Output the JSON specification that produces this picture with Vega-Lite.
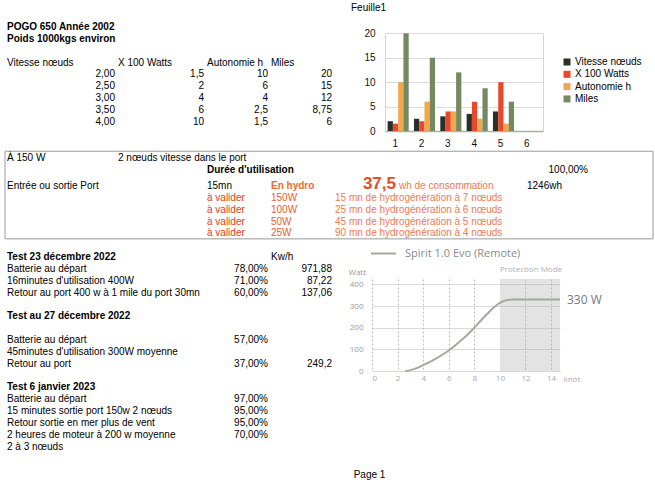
{
  "$schema": "https://vega.github.io/schema/vega-lite/v6.json",
  "width": 655,
  "height": 482,
  "autosize": {"type": "none"},
  "padding": 0,
  "background": "white",
  "config": {"font": "Liberation Sans", "view": {"stroke": null}},
  "title": {"text": "Feuille1", "fontSize": 10, "fontWeight": "normal", "color": "#000000", "frame": "group", "anchor": "middle", "dx": 41, "offset": -18, "baseline": "middle"},
  "datasets": {
    "cells": [
      {"row": 1, "col": 1, "role": "heading", "text": "POGO 650 Année 2002"},
      {"row": 2, "col": 1, "role": "heading", "text": "Poids 1000kgs environ"},
      {"row": 4, "col": 1, "role": "text", "text": "Vitesse nœuds"},
      {"row": 4, "col": 2, "role": "text", "text": "X 100 Watts"},
      {"row": 4, "col": 3, "role": "text", "text": "Autonomie h"},
      {"row": 4, "col": 4, "role": "text", "text": "Miles"},
      {"row": 5, "col": 1, "role": "value", "text": "2,00"},
      {"row": 5, "col": 2, "role": "value", "text": "1,5"},
      {"row": 5, "col": 3, "role": "value", "text": "10"},
      {"row": 5, "col": 4, "role": "value", "text": "20"},
      {"row": 6, "col": 1, "role": "value", "text": "2,50"},
      {"row": 6, "col": 2, "role": "value", "text": "2"},
      {"row": 6, "col": 3, "role": "value", "text": "6"},
      {"row": 6, "col": 4, "role": "value", "text": "15"},
      {"row": 7, "col": 1, "role": "value", "text": "3,00"},
      {"row": 7, "col": 2, "role": "value", "text": "4"},
      {"row": 7, "col": 3, "role": "value", "text": "4"},
      {"row": 7, "col": 4, "role": "value", "text": "12"},
      {"row": 8, "col": 1, "role": "value", "text": "3,50"},
      {"row": 8, "col": 2, "role": "value", "text": "6"},
      {"row": 8, "col": 3, "role": "value", "text": "2,5"},
      {"row": 8, "col": 4, "role": "value", "text": "8,75"},
      {"row": 9, "col": 1, "role": "value", "text": "4,00"},
      {"row": 9, "col": 2, "role": "value", "text": "10"},
      {"row": 9, "col": 3, "role": "value", "text": "1,5"},
      {"row": 9, "col": 4, "role": "value", "text": "6"},
      {"row": 12, "col": 1, "toRow": 18, "toCol": 9, "role": "frame", "text": ""},
      {"row": 12, "col": 1, "role": "text", "text": "À 150 W"},
      {"row": 12, "col": 2, "role": "text", "text": "2 nœuds vitesse dans le port"},
      {"row": 13, "col": 3, "role": "heading", "text": "Durée d'utilisation"},
      {"row": 13, "col": 8, "role": "value", "text": "100,00%"},
      {"row": 14, "col": 1, "role": "text", "text": "Entrée ou sortie Port"},
      {"row": 14, "col": 3, "role": "text", "text": "15mn"},
      {"row": 14, "col": 4, "role": "mode", "text": "En hydro"},
      {"row": 14, "col": 5, "role": "consumption", "text": "37,5"},
      {"row": 14, "col": 6, "role": "note", "text": "wh de consommation"},
      {"row": 14, "col": 8, "role": "text", "text": "1246wh"},
      {"row": 15, "col": 3, "role": "todo", "text": "à valider"},
      {"row": 15, "col": 4, "role": "power", "text": "150W"},
      {"row": 15, "col": 5, "role": "note", "text": "15 mn de hydrogénération à 7 nœuds"},
      {"row": 16, "col": 3, "role": "todo", "text": "à valider"},
      {"row": 16, "col": 4, "role": "power", "text": "100W"},
      {"row": 16, "col": 5, "role": "note", "text": "25 mn de hydrogénération à 6 nœuds"},
      {"row": 17, "col": 3, "role": "todo", "text": "à valider"},
      {"row": 17, "col": 4, "role": "power", "text": "50W"},
      {"row": 17, "col": 5, "role": "note", "text": "45 mn de hydrogénération à 5 nœuds"},
      {"row": 18, "col": 3, "role": "todo", "text": "à valider"},
      {"row": 18, "col": 4, "role": "power", "text": "25W"},
      {"row": 18, "col": 5, "role": "note", "text": "90 mn de hydrogénération à 4 nœuds"},
      {"row": 20, "col": 1, "role": "heading", "text": "Test 23 décembre 2022"},
      {"row": 20, "col": 4, "role": "text", "text": "Kw/h"},
      {"row": 21, "col": 1, "role": "text", "text": "Batterie au départ"},
      {"row": 21, "col": 3, "role": "value", "text": "78,00%"},
      {"row": 21, "col": 4, "role": "value", "text": "971,88"},
      {"row": 22, "col": 1, "role": "text", "text": "16minutes d'utilisation 400W"},
      {"row": 22, "col": 3, "role": "value", "text": "71,00%"},
      {"row": 22, "col": 4, "role": "value", "text": "87,22"},
      {"row": 23, "col": 1, "role": "text", "text": "Retour au port 400 w à 1 mile du port 30mn"},
      {"row": 23, "col": 3, "role": "value", "text": "60,00%"},
      {"row": 23, "col": 4, "role": "value", "text": "137,06"},
      {"row": 25, "col": 1, "role": "heading", "text": "Test au 27 décembre 2022"},
      {"row": 27, "col": 1, "role": "text", "text": "Batterie au départ"},
      {"row": 27, "col": 3, "role": "value", "text": "57,00%"},
      {"row": 28, "col": 1, "role": "text", "text": "45minutes d'utilisation 300W moyenne"},
      {"row": 29, "col": 1, "role": "text", "text": "Retour au port"},
      {"row": 29, "col": 3, "role": "value", "text": "37,00%"},
      {"row": 29, "col": 4, "role": "value", "text": "249,2"},
      {"row": 31, "col": 1, "role": "heading", "text": "Test 6 janvier 2023"},
      {"row": 32, "col": 1, "role": "text", "text": "Batterie au départ"},
      {"row": 32, "col": 3, "role": "value", "text": "97,00%"},
      {"row": 33, "col": 1, "role": "text", "text": "15 minutes sortie port 150w 2 nœuds"},
      {"row": 33, "col": 3, "role": "value", "text": "95,00%"},
      {"row": 34, "col": 1, "role": "text", "text": "Retour sortie en mer plus de vent"},
      {"row": 34, "col": 3, "role": "value", "text": "95,00%"},
      {"row": 35, "col": 1, "role": "text", "text": "2 heures de moteur à 200 w moyenne"},
      {"row": 35, "col": 3, "role": "value", "text": "70,00%"},
      {"row": 36, "col": 1, "role": "text", "text": "2 à 3 nœuds"}
    ],
    "bars": [
      {"rang": 1, "serie": "Vitesse nœuds", "valeur": 2},
      {"rang": 1, "serie": "X 100 Watts", "valeur": 1.5},
      {"rang": 1, "serie": "Autonomie h", "valeur": 10},
      {"rang": 1, "serie": "Miles", "valeur": 20},
      {"rang": 2, "serie": "Vitesse nœuds", "valeur": 2.5},
      {"rang": 2, "serie": "X 100 Watts", "valeur": 2},
      {"rang": 2, "serie": "Autonomie h", "valeur": 6},
      {"rang": 2, "serie": "Miles", "valeur": 15},
      {"rang": 3, "serie": "Vitesse nœuds", "valeur": 3},
      {"rang": 3, "serie": "X 100 Watts", "valeur": 4},
      {"rang": 3, "serie": "Autonomie h", "valeur": 4},
      {"rang": 3, "serie": "Miles", "valeur": 12},
      {"rang": 4, "serie": "Vitesse nœuds", "valeur": 3.5},
      {"rang": 4, "serie": "X 100 Watts", "valeur": 6},
      {"rang": 4, "serie": "Autonomie h", "valeur": 2.5},
      {"rang": 4, "serie": "Miles", "valeur": 8.75},
      {"rang": 5, "serie": "Vitesse nœuds", "valeur": 4},
      {"rang": 5, "serie": "X 100 Watts", "valeur": 10},
      {"rang": 5, "serie": "Autonomie h", "valeur": 1.5},
      {"rang": 5, "serie": "Miles", "valeur": 6}
    ],
    "spirit": [
      {"serie": "Spirit 1.0 Evo (Remote)", "knot": 2.6, "watt": 0},
      {"serie": "Spirit 1.0 Evo (Remote)", "knot": 3, "watt": 4},
      {"serie": "Spirit 1.0 Evo (Remote)", "knot": 3.5, "watt": 13},
      {"serie": "Spirit 1.0 Evo (Remote)", "knot": 4, "watt": 27},
      {"serie": "Spirit 1.0 Evo (Remote)", "knot": 4.5, "watt": 41},
      {"serie": "Spirit 1.0 Evo (Remote)", "knot": 5, "watt": 57},
      {"serie": "Spirit 1.0 Evo (Remote)", "knot": 5.5, "watt": 75},
      {"serie": "Spirit 1.0 Evo (Remote)", "knot": 6, "watt": 95},
      {"serie": "Spirit 1.0 Evo (Remote)", "knot": 6.5, "watt": 118},
      {"serie": "Spirit 1.0 Evo (Remote)", "knot": 7, "watt": 143},
      {"serie": "Spirit 1.0 Evo (Remote)", "knot": 7.5, "watt": 170},
      {"serie": "Spirit 1.0 Evo (Remote)", "knot": 8, "watt": 200},
      {"serie": "Spirit 1.0 Evo (Remote)", "knot": 8.5, "watt": 232},
      {"serie": "Spirit 1.0 Evo (Remote)", "knot": 9, "watt": 263},
      {"serie": "Spirit 1.0 Evo (Remote)", "knot": 9.5, "watt": 292},
      {"serie": "Spirit 1.0 Evo (Remote)", "knot": 10, "watt": 315},
      {"serie": "Spirit 1.0 Evo (Remote)", "knot": 10.5, "watt": 327},
      {"serie": "Spirit 1.0 Evo (Remote)", "knot": 11, "watt": 330},
      {"serie": "Spirit 1.0 Evo (Remote)", "knot": 12, "watt": 330},
      {"serie": "Spirit 1.0 Evo (Remote)", "knot": 13, "watt": 330},
      {"serie": "Spirit 1.0 Evo (Remote)", "knot": 14, "watt": 330},
      {"serie": "Spirit 1.0 Evo (Remote)", "knot": 14.7, "watt": 330}
    ],
    "zone": [
      {"zone": "Protection Mode", "from": 10, "to": 14.7}
    ],
    "annot": [
      {"label": "330 W", "knot": 14.7, "watt": 330}
    ]
  },
  "layer": [
    {
      "data": {"name": "cells"},
      "transform": [
        {"calculate": "datum.col + 1", "as": "colEnd"},
        {"calculate": "datum.toCol + 1", "as": "toColEnd"},
        {"calculate": "datum.row - 1", "as": "rowTop"}
      ],
      "encoding": {
        "x": {"field": "col", "type": "quantitative", "scale": {"domain": [1, 2, 3, 10], "range": [5, 116, 205, 653], "zero": false, "nice": false},
              "axis": {"title": "Page 1", "orient": "bottom", "labels": false, "ticks": false, "domain": false, "grid": false, "titleX": 369, "titleY": -8, "titleBaseline": "middle", "titleFontSize": 10, "titleFontWeight": "normal", "titleColor": "#000000", "titleFont": "Liberation Sans"}},
        "y": {"field": "row", "type": "quantitative", "scale": {"domain": [0, 13, 14, 36], "range": [20.5, 175, 191.5, 452], "zero": false, "nice": false}, "axis": null},
        "text": {"field": "text", "type": "nominal"}
      },
      "layer": [
        {"transform": [{"filter": "datum.role === 'frame'"}],
         "mark": {"type": "rect", "fill": null, "stroke": "#9a9a9a", "strokeWidth": 1},
         "encoding": {
           "x": {"field": "col", "type": "quantitative", "scale": {"domain": [1, 2, 3, 10], "range": [5, 116, 205, 653], "zero": false, "nice": false},
                 "axis": {"title": "Page 1", "orient": "bottom", "labels": false, "ticks": false, "domain": false, "grid": false, "titleX": 369, "titleY": -8, "titleBaseline": "middle", "titleFontSize": 10, "titleFontWeight": "normal", "titleColor": "#000000", "titleFont": "Liberation Sans"}},
           "x2": {"field": "toColEnd"},
           "y": {"field": "rowTop", "type": "quantitative", "scale": {"domain": [0, 13, 14, 36], "range": [20.5, 175, 191.5, 452], "zero": false, "nice": false}, "axis": null},
           "y2": {"field": "toRow"},
           "text": null
         }},
        {"transform": [{"filter": "datum.role === 'text'"}],
         "mark": {"type": "text", "align": "left", "baseline": "alphabetic", "dx": 2, "dy": -2.5, "fontSize": 10, "color": "#000000"}},
        {"transform": [{"filter": "datum.role === 'heading'"}],
         "mark": {"type": "text", "align": "left", "baseline": "alphabetic", "dx": 2, "dy": -2.5, "fontSize": 10, "fontWeight": "bold", "color": "#000000"}},
        {"transform": [{"filter": "datum.role === 'todo'"}],
         "mark": {"type": "text", "align": "left", "baseline": "alphabetic", "dx": 2, "dy": -2.5, "fontSize": 10, "color": "#e33c20"}},
        {"transform": [{"filter": "datum.role === 'power'"}],
         "mark": {"type": "text", "align": "left", "baseline": "alphabetic", "dx": 2, "dy": -2.5, "fontSize": 10, "color": "#eb5c33"}},
        {"transform": [{"filter": "datum.role === 'note'"}],
         "mark": {"type": "text", "align": "left", "baseline": "alphabetic", "dx": 2, "dy": -2.5, "fontSize": 10, "color": "#f07a52"}},
        {"transform": [{"filter": "datum.role === 'mode'"}],
         "mark": {"type": "text", "align": "left", "baseline": "alphabetic", "dx": 2, "dy": -2.5, "fontSize": 10, "fontWeight": "bold", "color": "#ee6a2c"}},
        {"transform": [{"filter": "datum.role === 'value'"}],
         "mark": {"type": "text", "align": "right", "baseline": "alphabetic", "dx": -1, "dy": -2.5, "fontSize": 10, "color": "#000000"},
         "encoding": {
           "x": {"field": "colEnd", "type": "quantitative", "scale": {"domain": [1, 2, 3, 10], "range": [5, 116, 205, 653], "zero": false, "nice": false},
                 "axis": {"title": "Page 1", "orient": "bottom", "labels": false, "ticks": false, "domain": false, "grid": false, "titleX": 369, "titleY": -8, "titleBaseline": "middle", "titleFontSize": 10, "titleFontWeight": "normal", "titleColor": "#000000", "titleFont": "Liberation Sans"}}
         }},
        {"transform": [{"filter": "datum.role === 'consumption'"}],
         "mark": {"type": "text", "align": "right", "baseline": "alphabetic", "dx": -1, "dy": -2.5, "fontSize": 17, "fontWeight": "bold", "color": "#e84a2a"},
         "encoding": {
           "x": {"field": "colEnd", "type": "quantitative", "scale": {"domain": [1, 2, 3, 10], "range": [5, 116, 205, 653], "zero": false, "nice": false},
                 "axis": {"title": "Page 1", "orient": "bottom", "labels": false, "ticks": false, "domain": false, "grid": false, "titleX": 369, "titleY": -8, "titleBaseline": "middle", "titleFontSize": 10, "titleFontWeight": "normal", "titleColor": "#000000", "titleFont": "Liberation Sans"}}
         }}
      ]
    },
    {
      "data": {"name": "bars"},
      "encoding": {
        "x": {"field": "rang", "type": "ordinal", "scale": {"domain": [1, 2, 3, 4, 5, 6], "range": [385, 543], "paddingInner": 0.2, "paddingOuter": 0.1},
              "axis": {"orient": "bottom", "offset": -351, "title": null, "labelAngle": 0, "ticks": false, "domain": true, "domainColor": "#a9b39d", "domainWidth": 1.5, "labelPadding": 7, "labelFontSize": 10, "labelColor": "#111111", "labelOffset": -3, "grid": false}},
        "xOffset": {"field": "serie", "type": "nominal", "scale": {"domain": ["Vitesse nœuds", "X 100 Watts", "Autonomie h", "Miles"]}},
        "y": {"field": "valeur", "type": "quantitative", "scale": {"domain": [0, 20], "range": [131, 33.3], "nice": false, "zero": true}},
        "color": {"field": "serie", "type": "nominal",
                  "scale": {"domain": ["Vitesse nœuds", "X 100 Watts", "Autonomie h", "Miles"], "range": ["#2b2f2a", "#e8492b", "#f1a84b", "#748862"]},
                  "legend": {"orient": "none", "legendX": 562, "legendY": 57, "title": null, "symbolType": "square", "symbolSize": 49, "symbolStrokeWidth": 0, "labelFontSize": 10, "labelColor": "#000000", "rowPadding": 2.3, "padding": 0, "labelOffset": 3}}
      },
      "layer": [
        {"mark": {"type": "bar"},
         "encoding": {"y": {"field": "valeur", "type": "quantitative", "scale": {"domain": [0, 20], "range": [131, 33.3], "nice": false, "zero": true},
                            "axis": {"orient": "left", "offset": -385, "title": null, "values": [0, 5, 10, 15, 20], "ticks": false, "domain": true, "domainColor": "#d4d4d4", "labelPadding": 10, "labelFontSize": 10, "labelColor": "#111111", "grid": true, "gridColor": "#dcdcdc"}}}},
        {"mark": {"type": "bar", "opacity": 0},
         "encoding": {"y": {"field": "valeur", "type": "quantitative", "scale": {"domain": [0, 20], "range": [131, 33.3], "nice": false, "zero": true},
                            "axis": {"orient": "right", "offset": -112, "title": null, "labels": false, "ticks": false, "domain": true, "domainColor": "#d4d4d4", "grid": false}}}}
      ],
      "resolve": {"axis": {"y": "independent"}}
    },
    {
      "layer": [
        {"data": {"name": "zone"},
         "mark": {"type": "rect", "fill": "#a8a8a8", "opacity": 0.32},
         "encoding": {
           "x": {"field": "from", "type": "quantitative", "scale": {"domain": [0, 14.7], "range": [372, 560], "nice": false, "zero": false},
                 "axis": {"orient": "bottom", "offset": -111, "values": [0, 2, 4, 6, 8, 10, 12, 14], "ticks": false, "domain": true, "domainColor": "#d8d8d8", "labelPadding": 3, "labelFontSize": 8, "labelColor": "#aaaaaa", "labelFont": "Open Sans", "grid": false,
                          "title": "knot", "titleX": 563, "titleY": 8, "titleAlign": "left", "titleBaseline": "middle", "titleFontSize": 8, "titleFontWeight": "normal", "titleColor": "#aaaaaa", "titleFont": "Open Sans"}},
           "x2": {"field": "to"},
           "y": {"datum": 0, "type": "quantitative", "scale": {"domain": [0, 425], "range": [371, 279], "nice": false, "zero": true},
                 "axis": {"orient": "left", "offset": -372, "values": [0, 100, 200, 300, 400], "ticks": false, "domain": false, "labelPadding": 9, "labelFontSize": 8, "labelColor": "#999999", "labelFont": "Open Sans", "grid": true, "gridColor": "#dadada",
                          "title": "Watt", "titleAngle": 0, "titleX": -24, "titleY": 272, "titleAlign": "left", "titleBaseline": "middle", "titleFontSize": 8, "titleFontWeight": "normal", "titleColor": "#999999", "titleFont": "Open Sans"}},
           "y2": {"datum": 425}
         }},
        {"data": {"name": "zone"},
         "mark": {"type": "text", "align": "left", "baseline": "middle", "dy": -9, "fontSize": 8, "color": "#b0b0b0", "font": "Open Sans"},
         "encoding": {
           "x": {"field": "from", "type": "quantitative",
                 "axis": {"orient": "top", "offset": -279, "values": [0, 2, 4, 6, 8, 12, 14], "labels": false, "domain": false, "grid": false, "title": null, "ticks": true, "tickSize": -92, "tickDash": [2, 2], "tickColor": "#bdbdbd", "tickWidth": 1}},
           "y": {"datum": 425, "type": "quantitative"},
           "text": {"field": "zone"}
         }},
        {"data": {"name": "spirit"},
         "mark": {"type": "line", "interpolate": "monotone", "strokeWidth": 2},
         "encoding": {
           "x": {"field": "knot", "type": "quantitative", "axis": null},
           "y": {"field": "watt", "type": "quantitative"},
           "color": {"field": "serie", "type": "nominal", "scale": {"range": ["#a2aaa0"]},
                     "legend": {"orient": "none", "legendX": 370, "legendY": 240, "title": null, "symbolType": "stroke", "symbolSize": 625, "symbolStrokeWidth": 2, "labelFontSize": 11, "labelColor": "#8a8a8a", "labelFont": "Open Sans", "labelOffset": 8, "padding": 0}}
         }},
        {"data": {"name": "annot"},
         "mark": {"type": "text", "align": "left", "baseline": "middle", "dx": 7, "fontSize": 12, "color": "#7a7a7a", "font": "Open Sans"},
         "encoding": {
           "x": {"field": "knot", "type": "quantitative", "axis": null},
           "y": {"field": "watt", "type": "quantitative"},
           "text": {"field": "label"}
         }}
      ],
      "resolve": {"axis": {"x": "independent"}}
    }
  ],
  "resolve": {"scale": {"x": "independent", "y": "independent", "color": "independent", "xOffset": "independent"}}
}
